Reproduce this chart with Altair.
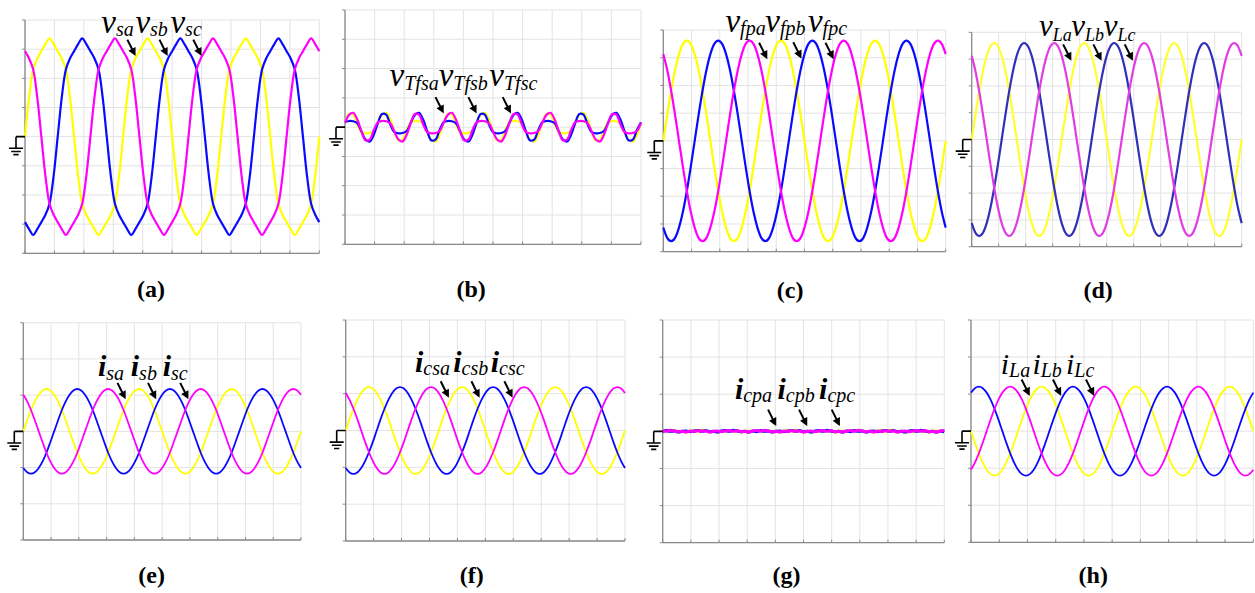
import altair as alt
import pandas as pd

# ---------------------------------------------------------------------------
# Phase-a waveform of each trace: one fundamental period, read every 15 deg,
# starting at the left edge of the screen (units: vertical divisions).
# Phases b and c are the same period delayed / advanced by 120 deg.
# ---------------------------------------------------------------------------
V_S = [0.0, 1.35, 2.3, 2.68, 2.93, 3.17, 3.37, 3.17, 2.93, 2.68, 2.3, 1.35,
       0.0, -1.35, -2.3, -2.68, -2.93, -3.17, -3.37, -3.17, -2.93, -2.68, -2.3, -1.35]
V_TF = [0.14, 0.45, 0.43, 0.1, -0.17, -0.21, -0.2, -0.13, 0.15, 0.42, 0.49, 0.26,
        -0.14, -0.45, -0.43, -0.1, 0.17, 0.21, 0.2, 0.13, -0.15, -0.42, -0.49, -0.26]
V_FP = [0.0, 0.94, 1.81, 2.56, 3.13, 3.5, 3.62, 3.5, 3.13, 2.56, 1.81, 0.94,
        0.0, -0.94, -1.81, -2.56, -3.13, -3.5, -3.62, -3.5, -3.13, -2.56, -1.81, -0.94]
V_L = [0.0, 0.93, 1.8, 2.55, 3.12, 3.48, 3.6, 3.48, 3.12, 2.55, 1.8, 0.93,
       0.0, -0.93, -1.8, -2.55, -3.12, -3.48, -3.6, -3.48, -3.12, -2.55, -1.8, -0.93]
I_S = [0.0, 0.3, 0.59, 0.83, 1.01, 1.13, 1.17, 1.13, 1.01, 0.83, 0.59, 0.3,
       0.0, -0.3, -0.59, -0.83, -1.01, -1.13, -1.17, -1.13, -1.01, -0.83, -0.59, -0.3]
I_CS = [0.0, 0.31, 0.59, 0.83, 1.02, 1.14, 1.18, 1.14, 1.02, 0.83, 0.59, 0.31,
        0.0, -0.31, -0.59, -0.83, -1.02, -1.14, -1.18, -1.14, -1.02, -0.83, -0.59, -0.31]
I_CP = [0.01, 0.02, 0.0, 0.02, -0.01, 0.0, -0.02, 0.01, 0.02, 0.0, 0.03, 0.01,
        -0.01, 0.0, -0.02, 0.01, -0.01, 0.02, 0.0, 0.01, -0.02, 0.0, 0.01, -0.01]
I_L = [0.0, -0.31, -0.6, -0.85, -1.04, -1.16, -1.2, -1.16, -1.04, -0.85, -0.6, -0.31,
       0.0, 0.31, 0.6, 0.85, 1.04, 1.16, 1.2, 1.16, 1.04, 0.85, 0.6, 0.31]

SAMPLES_PER_CYCLE = 24
CYCLES_ON_SCREEN = 3
X_DIVS = 10

# trace labels: (letter, subscript, x of junction, baseline y)  [divisions]
LABELS_A = [("v", "sa", 3.09, 3.55), ("v", "sb", 4.25, 3.55), ("v", "sc", 5.44, 3.55)]
LABELS_B = [("v", "Tfsa", 2.0, 1.41), ("v", "Tfsb", 3.66, 1.41), ("v", "Tfsc", 5.37, 1.41)]
LABELS_C = [("v", "fpa", 2.72, 3.94), ("v", "fpb", 4.13, 3.94), ("v", "fpc", 5.64, 3.94)]
LABELS_D = [("v", "La", 3.0, 3.86), ("v", "Lb", 4.2, 3.86), ("v", "Lc", 5.4, 3.86)]
LABELS_E = [("i", "sa", 2.99, 1.53), ("i", "sb", 4.17, 1.53), ("i", "sc", 5.32, 1.53)]
LABELS_F = [("i", "csa", 2.78, 1.6), ("i", "csb", 4.15, 1.6), ("i", "csc", 5.49, 1.6)]
LABELS_G = [("i", "cpa", 2.86, 0.86), ("i", "cpb", 4.37, 0.86), ("i", "cpc", 5.85, 0.86)]
LABELS_H = [("i", "La", 1.35, 1.54), ("i", "Lb", 2.47, 1.54), ("i", "Lc", 3.66, 1.54)]

# pointer arrows (centre x, centre y) [divisions]
ARROWS_A = [(3.60, 3.08), (4.69, 3.08), (5.84, 3.08)]
ARROWS_B = [(3.18, 0.78), (4.29, 0.78), (5.45, 0.78)]
ARROWS_C = [(3.52, 3.28), (4.73, 3.3), (5.87, 3.28)]
ARROWS_D = [(3.52, 3.28), (4.64, 3.28), (5.80, 3.28)]
ARROWS_E = [(3.52, 1.14), (4.62, 1.14), (5.78, 1.14)]
ARROWS_F = [(3.53, 1.14), (4.63, 1.14), (5.81, 1.14)]
ARROWS_G = [(3.87, 0.39), (4.97, 0.39), (6.13, 0.39)]
ARROWS_H = [(1.92, 1.20), (3.03, 1.20), (4.20, 1.20)]

# sub-figure captions (text, x, y) [divisions]
CAPTIONS = [("(a)", 4.28, -5.5), ("(b)", 4.26, -5.8), ("(c)", 4.49, -5.68), ("(d)", 4.68, -5.91),
            ("(e)", 4.62, -4.19), ("(f)", 4.51, -4.14), ("(g)", 4.40, -4.09), ("(h)", 4.33, -4.10)]

# ---------------------------------------------------------------------------
# styling / layout
# ---------------------------------------------------------------------------
YELLOW, MAGENTA, BLUE = "#ffff00", "#ff00ff", "#0a0aff"
D_COLORS = ("#ffff30", "#3030b8", "#e23de2")
GRID = "#e3e3e3"
FRAME = "#8a8a8a"
SERIF = "Liberation Serif, Times New Roman, Times, serif"

# screen rectangle of each scope trace: left, right, top, bottom (px)
GEOM = {
    "a": (25.0, 319.3, 20.0, 253.3),
    "b": (345.0, 641.0, 10.0, 244.3),
    "c": (663.3, 945.7, 30.0, 251.7),
    "d": (971.7, 1241.7, 32.3, 246.7),
    "e": (23.3, 301.0, 322.7, 540.0),
    "f": (345.7, 625.0, 320.0, 541.0),
    "g": (662.7, 944.3, 320.0, 542.7),
    "h": (971.0, 1253.3, 320.0, 542.3),
}

# custom symbol paths (unit box, scaled by sqrt(size)/2)
GROUND_PATH = ("M-0.45,0 H0 M-0.45,0 V0.58 M-0.8,0.58 H-0.1 "
               "M-0.69,0.74 H-0.21 M-0.58,0.9 H-0.32")
ARROW_PATH = "M-0.45,-0.9 L0.2,0.4 M0.45,0.9 L-0.09,0.5 L0.45,0.22 Z"


def trace_frame(cycle):
    """Three phases built from the sampled phase-a period."""
    n = SAMPLES_PER_CYCLE
    rows = []
    for k in range(n * CYCLES_ON_SCREEN + 1):
        x = k * X_DIVS / (n * CYCLES_ON_SCREEN)
        rows.append({"x": x, "a": cycle[k % n], "b": cycle[(k - 8) % n], "c": cycle[(k + 8) % n]})
    return pd.DataFrame(rows)


def panel(key, cycle, half, labels, arrows, caption, colors=(YELLOW, BLUE, MAGENTA),
          width=2.2, interp="monotone", main_size=33, sub_size=20, sub_dy=3.5,
          main_weight="normal"):
    L, R, T, B = GEOM[key]
    xs = alt.Scale(domain=[0, X_DIVS], range=[L, R], nice=False, zero=False)
    ys = alt.Scale(domain=[-half, half], range=[B, T], nice=False, zero=False)

    def X(f):
        return alt.X(f, type="quantitative", scale=xs, axis=None)

    def Y(f):
        return alt.Y(f, type="quantitative", scale=ys, axis=None)

    grid_rows = [{"x0": i, "x1": i, "y0": -half, "y1": half} for i in range(X_DIVS + 1)]
    grid_rows += [{"x0": 0, "x1": X_DIVS, "y0": j, "y1": j} for j in range(-half, half + 1)]
    grid = alt.Chart(pd.DataFrame(grid_rows)).mark_rule(color=GRID, strokeWidth=1).encode(
        x=X("x0"), x2="x1", y=Y("y0"), y2="y1")

    frame_rows = [{"x0": 0, "x1": 0, "y0": -half, "y1": half},
                  {"x0": 0, "x1": X_DIVS, "y0": -half, "y1": -half}]
    frame = alt.Chart(pd.DataFrame(frame_rows)).mark_rule(color=FRAME, strokeWidth=1.3).encode(
        x=X("x0"), x2="x1", y=Y("y0"), y2="y1")

    lt = pd.DataFrame({"x": [0] * (2 * half + 1), "y": list(range(-half, half + 1))})
    left_ticks = alt.Chart(lt).mark_rule(color=FRAME, strokeWidth=1, xOffset=-3, x2Offset=0).encode(
        x=X("x"), x2="x", y=Y("y"), y2="y")
    bt = pd.DataFrame({"x": list(range(X_DIVS + 1)), "y": [-half] * (X_DIVS + 1)})
    bottom_ticks = alt.Chart(bt).mark_rule(color=FRAME, strokeWidth=1, yOffset=0, y2Offset=-3).encode(
        x=X("x"), x2="x", y=Y("y"), y2="y")

    data = trace_frame(cycle)
    lines = []
    for ph, col in zip(["a", "b", "c"], colors):
        lines.append(alt.Chart(data).mark_line(color=col, strokeWidth=width, interpolate=interp,
                                               strokeJoin="round").encode(x=X("x"), y=Y(ph)))

    ground = alt.Chart(pd.DataFrame({"x": [0], "y": [0]})).mark_point(
        shape=GROUND_PATH, size=1600, filled=False, stroke="black", strokeWidth=1.6, opacity=1
    ).encode(x=X("x"), y=Y("y"))

    ldf = pd.DataFrame(labels, columns=["main", "sub", "x", "y"])
    main_txt = alt.Chart(ldf).mark_text(font=SERIF, fontStyle="italic", fontWeight=main_weight,
                                        fontSize=main_size, align="right", baseline="alphabetic",
                                        color="black").encode(x=X("x"), y=Y("y"), text="main:N")
    sub_txt = alt.Chart(ldf).mark_text(font=SERIF, fontStyle="italic", fontSize=sub_size,
                                       align="left", baseline="alphabetic", dy=sub_dy,
                                       color="black").encode(x=X("x"), y=Y("y"), text="sub:N")

    adf = pd.DataFrame(arrows, columns=["x", "y"])
    arrow = alt.Chart(adf).mark_point(shape=ARROW_PATH, size=256, filled=True, fill="black",
                                      stroke="black", strokeWidth=2, opacity=1).encode(
        x=X("x"), y=Y("y"))

    cdf = pd.DataFrame([caption], columns=["t", "x", "y"])
    cap = alt.Chart(cdf).mark_text(font=SERIF, fontWeight="bold", fontSize=24, align="center",
                                   baseline="alphabetic", color="black").encode(
        x=X("x"), y=Y("y"), text="t:N")

    return alt.layer(grid, frame, left_ticks, bottom_ticks, *lines, ground, arrow,
                     main_txt, sub_txt, cap)


panels = [
    panel("a", V_S, 4, LABELS_A, ARROWS_A, CAPTIONS[0], interp="catmull-rom", sub_dy=3),
    panel("b", V_TF, 4, LABELS_B, ARROWS_B, CAPTIONS[1], interp="catmull-rom", sub_dy=4),
    panel("c", V_FP, 4, LABELS_C, ARROWS_C, CAPTIONS[2], sub_dy=3.5),
    panel("d", V_L, 4, LABELS_D, ARROWS_D, CAPTIONS[3], colors=D_COLORS, main_size=31,
          sub_size=18, sub_dy=4.5),
    panel("e", I_S, 3, LABELS_E, ARROWS_E, CAPTIONS[4], width=1.8, main_size=30,
          main_weight="bold", sub_dy=4),
    panel("f", I_CS, 3, LABELS_F, ARROWS_F, CAPTIONS[5], width=1.8, main_size=30,
          main_weight="bold", sub_dy=3.3),
    panel("g", I_CP, 3, LABELS_G, ARROWS_G, CAPTIONS[6], width=3, main_size=30,
          main_weight="bold", sub_dy=2.5),
    panel("h", I_L, 3, LABELS_H, ARROWS_H, CAPTIONS[7], width=1.8, main_size=30, sub_dy=2.7),
]

chart = alt.layer(*panels).resolve_scale(x="independent", y="independent").properties(
    width=1255, height=593, padding=0, background="white",
    autosize=alt.AutoSizeParams(type="none"),
).configure_view(strokeWidth=0)

chart.save("out.html", embed_options={"renderer": "svg", "actions": False})
